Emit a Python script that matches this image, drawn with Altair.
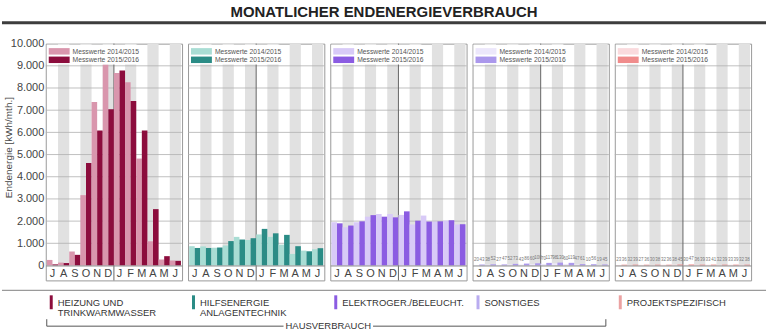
import altair as alt
import pandas as pd

# ---------------- data ----------------
title_text = "MONATLICHER ENDENERGIEVERBRAUCH"
y_title = "Endenergie [kWh/mth.]"
months = ["Jul", "Aug", "Sep", "Okt", "Nov", "Dez", "Jan", "Feb", "Mär", "Apr", "Mai", "Jun"]
series = ["Messwerte 2014/2015", "Messwerte 2015/2016"]
categories = ["HEIZUNG UND\nTRINKWARMWASSER", "HILFSENERGIE\nANLAGENTECHNIK",
              "ELEKTROGER./BELEUCHT.", "SONSTIGES", "PROJEKTSPEZIFISCH"]
group_label = "HAUSVERBRAUCH"
y_ticks = [0, 1000, 2000, 3000, 4000, 5000, 6000, 7000, 8000, 9000, 10000]

heizung_1415 = [250, 130, 630, 3170, 7370, 9060, 8680, 8260, 4820, 1090, 270, 220]
heizung_1516 = [50, 110, 480, 4620, 6090, 7040, 8790, 7410, 6090, 2540, 420, 210]
hilfs_1415 = [870, 860, 800, 900, 1290, 1150, 1400, 1290, 940, 520, 670, 730]
hilfs_1516 = [790, 790, 810, 1100, 1170, 1230, 1650, 1450, 1380, 870, 640, 780]
elektro_1415 = [1950, 1720, 1950, 2200, 2320, 2320, 2280, 1850, 2250, 1980, 2020, 1850]
elektro_1516 = [1900, 1800, 1990, 2270, 2200, 2170, 2440, 2020, 1980, 1990, 2040, 1860]
sonst_1415 = [20, 38, 27, 52, 43, 60, 70, 98, 60, 47, 10, 19]
sonst_1516 = [43, 52, 47, 73, 86, 100, 117, 130, 119, 61, 56, 45]
projekt_1415 = [23, 32, 27, 30, 32, 38, 30, 36, 33, 32, 33, 32]
projekt_1516 = [36, 39, 36, 38, 36, 45, 47, 39, 41, 39, 39, 38]

values_1415 = [heizung_1415, hilfs_1415, elektro_1415, sonst_1415, projekt_1415]
values_1516 = [heizung_1516, hilfs_1516, elektro_1516, sonst_1516, projekt_1516]
show_labels = [False, False, False, True, True]

light_colors = ["#d996ad", "#a9ddd4", "#d8caf7", "#ece7fb", "#fadadd"]
dark_colors = ["#8c0d3d", "#2b8c86", "#8b5ce2", "#ab98ec", "#f08c8c"]
legend_colors = ["#8c0d3d", "#2b8c86", "#8b5ce2", "#b9acf0", "#eba2a2"]

# ---------------- layout ----------------
W, H = 137, 238
PLOT_H = 223
Y_MIN = -10000 * (H - PLOT_H) / PLOT_H
FONT = "Liberation Sans"
TXT = "#444444"

keys, colors = [], []
for i in range(5):
    keys += [f"{i}|{series[0]}", f"{i}|{series[1]}"]
    colors += [light_colors[i], dark_colors[i]]
color_scale = alt.Scale(domain=keys, range=colors)
x_scale = alt.Scale(domain=months, paddingInner=0, paddingOuter=0.1)
y_scale = alt.Scale(domain=[Y_MIN, 10000], nice=False, zero=False)
off_scale = alt.Scale(domain=series, paddingInner=0, paddingOuter=0)

x_axis = alt.Axis(orient="bottom", offset=-(H - PLOT_H), labelExpr="substring(datum.label, 0, 1)",
                  labelAngle=0, ticks=False, domainColor="#8a8a8a", domainWidth=1,
                  labelFontSize=11, labelColor=TXT, labelPadding=2, labelFont=FONT, grid=False)
y_axis_main = alt.Axis(values=y_ticks, labelExpr="replace(format(datum.value, ',d'), ',', '.')",
                       grid=False, ticks=False, domain=False, labelFontSize=11, labelColor=TXT,
                       labelPadding=2, labelFont=FONT, titleFont=FONT, titleFontSize=10,
                       titleFontWeight="normal", titleColor=TXT, titleX=-32, titleY=104,
                       titleBaseline="bottom")

one = pd.DataFrame({"a": [0]})


def X(bp=None):
    if bp is None:
        return alt.X("month:N", scale=x_scale, axis=x_axis, title=None)
    return alt.X("month:N", scale=x_scale, axis=x_axis, title=None, bandPosition=bp)


def panel(i):
    yax = y_axis_main if i == 0 else None
    ytitle = y_title if i == 0 else None

    def Y(field):
        return alt.Y(field, scale=y_scale, axis=yax, title=ytitle)

    rows = []
    for m, a, b in zip(months, values_1415[i], values_1516[i]):
        rows.append({"month": m, "series": series[0], "value": a, "key": f"{i}|{series[0]}"})
        rows.append({"month": m, "series": series[1], "value": b, "key": f"{i}|{series[1]}"})
    df = pd.DataFrame(rows)

    bands = alt.Chart(pd.DataFrame({"month": months[1::2], "top": 10000, "bot": 0})).mark_rect(
        color="#e1e1e1").encode(x=X(), y=Y("top:Q"), y2="bot:Q")
    grid = alt.Chart(pd.DataFrame({"t": y_ticks[1:-1]})).mark_rule(
        color="#b0b0b0", strokeWidth=0.8).encode(y=Y("t:Q"))
    divider = alt.Chart(pd.DataFrame({"month": [months[6]]})).mark_rule(
        color="#666666", strokeWidth=1).encode(x=X(0), y=alt.value(0), y2=alt.value(H))
    bars = alt.Chart(df).mark_bar().encode(
        x=X(),
        xOffset=alt.XOffset("series:N", scale=off_scale),
        y=Y("value:Q"),
        y2=alt.Y2Datum(0),
        color=alt.Color("key:N", scale=color_scale, legend=None),
    )
    layers = [bands, grid, divider, bars]
    if show_labels[i]:
        labels = alt.Chart(df).mark_text(fontSize=4.5, color="#777777", dy=-3, baseline="bottom",
                                         font=FONT).encode(
            x=X(), xOffset=alt.XOffset("series:N", scale=off_scale), y=Y("value:Q"),
            text="value:Q")
        layers.append(labels)

    # in-panel legend
    base = alt.Chart(one)
    layers += [
        base.mark_rect(color="white").encode(x=alt.value(1), x2=alt.value(92),
                                             y=alt.value(1), y2=alt.value(21)),
        base.mark_rect(color=light_colors[i]).encode(x=alt.value(3), x2=alt.value(24),
                                                     y=alt.value(4.5), y2=alt.value(11)),
        base.mark_rect(color=dark_colors[i]).encode(x=alt.value(3), x2=alt.value(24),
                                                    y=alt.value(13), y2=alt.value(19.5)),
        base.mark_text(fontSize=6.8, color="#555555", align="left", baseline="middle",
                       font=FONT).encode(x=alt.value(27), y=alt.value(8), text=alt.value(series[0])),
        base.mark_text(fontSize=6.8, color="#555555", align="left", baseline="middle",
                       font=FONT).encode(x=alt.value(27), y=alt.value(16.5), text=alt.value(series[1])),
    ]
    # bottom legend item
    layers += [
        base.mark_rect(color=legend_colors[i]).encode(x=alt.value(4), x2=alt.value(7),
                                                      y=alt.value(253), y2=alt.value(267)),
        base.mark_text(fontSize=9.5, color="#333333", align="left", baseline="alphabetic",
                       lineBreak="\n", lineHeight=10, font=FONT).encode(
            x=alt.value(12), y=alt.value(263.5), text=alt.value(categories[i])),
    ]
    if i == 0:
        layers += [
            base.mark_rect(opacity=0).encode(x=alt.value(-44), x2=alt.value(724),
                                             y=alt.value(-42), y2=alt.value(289)),
            base.mark_text(fontSize=15, fontWeight="bold", color="#222222", align="center",
                           baseline="middle", font=FONT).encode(
                x=alt.value(340), y=alt.value(-32), text=alt.value(title_text)),
            base.mark_rule(color="#3d3d3d", strokeWidth=3).encode(
                x=alt.value(-44), x2=alt.value(724), y=alt.value(-21)),
            base.mark_rule(color="#9a9a9a", strokeWidth=1.2).encode(
                x=alt.value(-44), x2=alt.value(724), y=alt.value(248)),
            # bracket
            base.mark_rule(color="#555555", strokeWidth=1).encode(
                x=alt.value(1), y=alt.value(277), y2=alt.value(284)),
            base.mark_rule(color="#555555", strokeWidth=1).encode(
                x=alt.value(563), y=alt.value(277), y2=alt.value(284)),
            base.mark_rule(color="#555555", strokeWidth=1).encode(
                x=alt.value(1), x2=alt.value(239), y=alt.value(284)),
            base.mark_rule(color="#555555", strokeWidth=1).encode(
                x=alt.value(329), x2=alt.value(563), y=alt.value(284)),
            base.mark_text(fontSize=9.5, color="#333333", align="center", baseline="middle",
                           font=FONT).encode(x=alt.value(284), y=alt.value(284),
                                             text=alt.value(group_label)),
        ]
    return alt.layer(*layers).properties(width=W, height=H)


chart = alt.hconcat(*[panel(i) for i in range(5)], spacing=6, bounds="flush", padding=0).configure(
    font=FONT, background="white").configure_view(stroke="#999999", strokeWidth=1)

chart.save("out.html", embed_options={"renderer": "svg", "actions": False})
